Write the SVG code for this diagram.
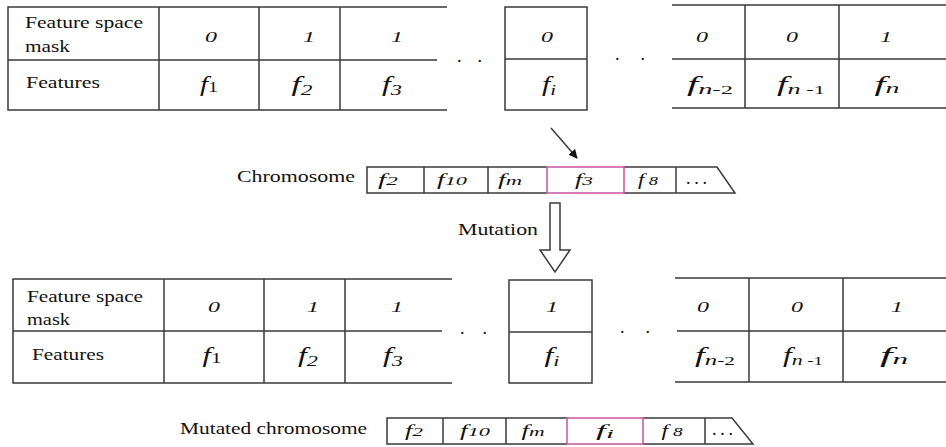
<svg xmlns="http://www.w3.org/2000/svg" width="946" height="447" viewBox="0 0 946 447">
<defs>
<style>
.ln{stroke:#3a3a3a;stroke-width:1.5;fill:none}
.pk{stroke:#c8559e;stroke-width:1.5;fill:none}
text{font-family:'Liberation Serif','Times New Roman',serif;fill:#111}
.lbl{font-size:17px}
.v{font-style:italic;font-size:15px;text-anchor:middle}
.f{font-style:italic;font-size:20px;text-anchor:middle}
.fs{font-style:italic;font-size:16px;text-anchor:middle}
.sub{font-size:14px}
.up{font-style:normal}
.dot{font-size:18px}
</style>
<marker id="ah" viewBox="0 0 10 10" refX="9" refY="5" markerWidth="9" markerHeight="9" markerUnits="userSpaceOnUse" orient="auto">
<path d="M0,0 L10,5 L0,10 z" fill="#111"/>
</marker>
</defs>
<rect width="946" height="447" fill="#fff"/>

<!-- Top table, left part -->
<g id="top-table-left">
<path class="ln" d="M447,7 H8 V110 H447 M8,60 H437 M159,7 V110 M259,7 V110 M340,7 V110"/>
<text class="lbl" x="25" y="28" textLength="118" lengthAdjust="spacingAndGlyphs">Feature space</text>
<text class="lbl" x="25" y="52" textLength="45" lengthAdjust="spacingAndGlyphs">mask</text>
<text class="lbl" x="26" y="88" textLength="74" lengthAdjust="spacingAndGlyphs">Features</text>
<text class="v" x="211" y="42" textLength="12" lengthAdjust="spacingAndGlyphs">0</text>
<text class="v" x="309" y="42" textLength="12" lengthAdjust="spacingAndGlyphs">1</text>
<text class="v" x="397" y="42" textLength="12" lengthAdjust="spacingAndGlyphs">1</text>
<text class="f" x="209" y="91" textLength="18" lengthAdjust="spacingAndGlyphs">f<tspan class="sub up" dy="1">1</tspan></text>
<text class="f" x="302" y="91" textLength="21" lengthAdjust="spacingAndGlyphs">f<tspan class="sub" dy="4">2</tspan></text>
<text class="f" x="392" y="91" textLength="20" lengthAdjust="spacingAndGlyphs">f<tspan class="sub" dy="4">3</tspan></text>
</g>
<g id="top-dots-1"><text class="dot" x="457" y="62" textLength="25" lengthAdjust="spacing">. .</text></g>
<g id="top-table-fi">
<rect class="ln" x="505" y="7" width="82" height="103"/>
<path class="ln" d="M505,59 H587"/>
<text class="v" x="547" y="42" textLength="12" lengthAdjust="spacingAndGlyphs">0</text>
<text class="f" x="549" y="91" textLength="14" lengthAdjust="spacingAndGlyphs">f<tspan class="sub" dy="4">i</tspan></text>
</g>
<g id="top-dots-2"><text class="dot" x="615" y="60" textLength="30" lengthAdjust="spacing">. .</text></g>
<g id="top-table-right">
<path class="ln" d="M672,5 H946 M672,59 H946 M672,108 H946 M745,5 V108 M839,5 V108"/>
<text class="v" x="702" y="42" textLength="12" lengthAdjust="spacingAndGlyphs">0</text>
<text class="v" x="792" y="42" textLength="12" lengthAdjust="spacingAndGlyphs">0</text>
<text class="v" x="886" y="42" textLength="12" lengthAdjust="spacingAndGlyphs">1</text>
<text class="f" x="710" y="91" textLength="46" lengthAdjust="spacingAndGlyphs">f<tspan class="sub" dy="3">n</tspan><tspan class="up" font-size="12">-2</tspan></text>
<text class="f" x="801" y="91" textLength="48" lengthAdjust="spacingAndGlyphs">f<tspan class="sub" dy="3">n</tspan><tspan class="up" font-size="12"> -1</tspan></text>
<text class="f" x="887" y="91" textLength="25" lengthAdjust="spacingAndGlyphs">f<tspan class="sub" dy="2">n</tspan></text>
</g>

<!-- Chromosome -->
<g id="chromosome">
<text class="lbl" x="237" y="182" textLength="118" lengthAdjust="spacingAndGlyphs">Chromosome</text>
<path class="ln" d="M547,167 H367 V193 H547 M624,167 H717 L735,193 H624 M424,167 V193 M488,167 V193 M676,167 V193"/>
<rect class="pk" x="547" y="167" width="77" height="26"/>
<text class="fs" x="388" y="185" textLength="20" lengthAdjust="spacingAndGlyphs">f<tspan font-size="13">2</tspan></text>
<text class="fs" x="452" y="185" textLength="30" lengthAdjust="spacingAndGlyphs">f<tspan font-size="13">10</tspan></text>
<text class="fs" x="510" y="185" textLength="24" lengthAdjust="spacingAndGlyphs">f<tspan font-size="13">m</tspan></text>
<text class="fs" x="584" y="185" textLength="18" lengthAdjust="spacingAndGlyphs">f<tspan font-size="13">3</tspan></text>
<text class="fs" x="648" y="185" textLength="20" lengthAdjust="spacingAndGlyphs">f<tspan font-size="13"> 8</tspan></text>
<text class="dot" x="686" y="184" font-size="11" textLength="21" lengthAdjust="spacing">...</text>
</g>

<g id="mutation-label">
<text class="lbl" x="458" y="235" textLength="80" lengthAdjust="spacingAndGlyphs">Mutation</text>
</g>

<!-- Connectors -->
<g id="connectors">
<line class="ln" x1="551" y1="128" x2="577" y2="158" stroke="#111" marker-end="url(#ah)"/>
<path class="ln" d="M550,203 H560 V250 H570 L555,272 L540,250 H550 Z"/>
</g>

<!-- Bottom table -->
<g id="bottom-table-left">
<path class="ln" d="M452,279 H13 V383 H452 M13,331 H442 M164,279 V383 M264,279 V383 M345,279 V383"/>
<text class="lbl" x="27" y="302" textLength="116" lengthAdjust="spacingAndGlyphs">Feature space</text>
<text class="lbl" x="27" y="325" textLength="43" lengthAdjust="spacingAndGlyphs">mask</text>
<text class="lbl" x="32" y="360" textLength="72" lengthAdjust="spacingAndGlyphs">Features</text>
<text class="v" x="214" y="312" textLength="12" lengthAdjust="spacingAndGlyphs">0</text>
<text class="v" x="313" y="312" textLength="12" lengthAdjust="spacingAndGlyphs">1</text>
<text class="v" x="397" y="312" textLength="12" lengthAdjust="spacingAndGlyphs">1</text>
<text class="f" x="212" y="362" textLength="19" lengthAdjust="spacingAndGlyphs">f<tspan class="sub up" dy="1">1</tspan></text>
<text class="f" x="308" y="362" textLength="20" lengthAdjust="spacingAndGlyphs">f<tspan class="sub" dy="4">2</tspan></text>
<text class="f" x="393" y="362" textLength="20" lengthAdjust="spacingAndGlyphs">f<tspan class="sub" dy="4">3</tspan></text>
</g>
<g id="bottom-dots-1"><text class="dot" x="460" y="334" textLength="27" lengthAdjust="spacing">. .</text></g>
<g id="bottom-table-fi">
<rect class="ln" x="509" y="280" width="83" height="103"/>
<path class="ln" d="M509,332 H592"/>
<text class="v" x="552" y="312" textLength="12" lengthAdjust="spacingAndGlyphs">1</text>
<text class="f" x="552" y="362" textLength="15" lengthAdjust="spacingAndGlyphs">f<tspan class="sub" dy="4">i</tspan></text>
</g>
<g id="bottom-dots-2"><text class="dot" x="620" y="333" textLength="30" lengthAdjust="spacing">. .</text></g>
<g id="bottom-table-right">
<path class="ln" d="M675,278 H946 M677,331 H946 M675,382 H946 M749,278 V382 M843,278 V382"/>
<text class="v" x="703" y="312" textLength="12" lengthAdjust="spacingAndGlyphs">0</text>
<text class="v" x="797" y="312" textLength="12" lengthAdjust="spacingAndGlyphs">0</text>
<text class="v" x="897" y="312" textLength="12" lengthAdjust="spacingAndGlyphs">1</text>
<text class="f" x="715" y="362" textLength="40" lengthAdjust="spacingAndGlyphs">f<tspan class="sub" dy="3">n</tspan><tspan class="up" font-size="12">-2</tspan></text>
<text class="f" x="803" y="362" textLength="40" lengthAdjust="spacingAndGlyphs">f<tspan class="sub" dy="3">n</tspan><tspan class="up" font-size="12"> -1</tspan></text>
<text class="f" x="894" y="362" textLength="28" lengthAdjust="spacingAndGlyphs">f<tspan class="sub" dy="2">n</tspan></text>
</g>

<!-- Mutated chromosome -->
<g id="mutated-chromosome">
<text class="lbl" x="180" y="434" textLength="187" lengthAdjust="spacingAndGlyphs">Mutated chromosome</text>
<path class="ln" d="M567,418 H387 V444 H567 M643,418 H732 L753,444 H643 M443,418 V444 M506,418 V444 M705,418 V444"/>
<rect class="pk" x="567" y="418" width="76" height="26"/>
<text class="fs" x="414" y="436" textLength="18" lengthAdjust="spacingAndGlyphs">f<tspan font-size="13">2</tspan></text>
<text class="fs" x="475" y="436" textLength="30" lengthAdjust="spacingAndGlyphs">f<tspan font-size="13">10</tspan></text>
<text class="fs" x="533" y="436" textLength="23" lengthAdjust="spacingAndGlyphs">f<tspan font-size="13">m</tspan></text>
<text class="fs" x="605" y="436" textLength="18" lengthAdjust="spacingAndGlyphs">f<tspan font-size="13" dy="2">i</tspan></text>
<text class="fs" x="672" y="436" textLength="21" lengthAdjust="spacingAndGlyphs">f<tspan font-size="13"> 8</tspan></text>
<text class="dot" x="712" y="435" font-size="11" textLength="21" lengthAdjust="spacing">...</text>
</g>
</svg>
